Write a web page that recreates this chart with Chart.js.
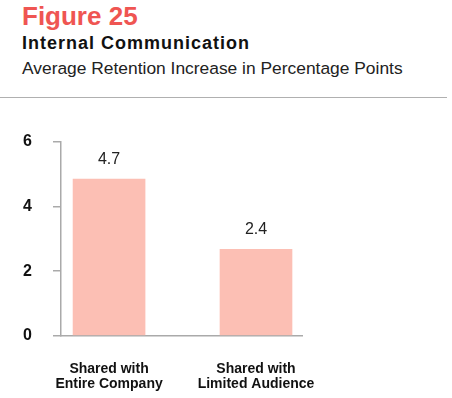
<!DOCTYPE html>
<html>
<head>
<meta charset="utf-8">
<script src="https://cdn.jsdelivr.net/npm/chart.js@4.4.1/dist/chart.umd.min.js"></script>
<style>
  html, body { margin: 0; padding: 0; background: #fff; }
  body { width: 452px; height: 398px; position: relative; overflow: hidden;
         font-family: "Liberation Sans", Arial, Helvetica, sans-serif; }
  #fig { position: absolute; left: 22px; top: 1px; font-size: 26px; font-weight: bold; color: #ef5552; }
  #title { position: absolute; left: 22px; top: 33px; font-size: 18px; font-weight: bold; color: #111; letter-spacing: 1px; }
  #sub { position: absolute; left: 22px; top: 58px; font-size: 17.4px; color: #222; }
  #rule { position: absolute; left: 0; top: 97px; width: 447px; height: 0; border-top: 1.5px solid #b0b0b0; }
  #wrap { position: absolute; left: 0; top: 100px; width: 452px; height: 318px; }
</style>
</head>
<body>
<div id="fig">Figure 25</div>
<div id="title">Internal Communication</div>
<div id="sub">Average Retention Increase in Percentage Points</div>
<div id="rule"></div>
<div id="wrap"><canvas id="chart"></canvas></div>
<script>
const categories  = [["Shared with", "Entire Company"], ["Shared with", "Limited Audience"]];
const values      = [4.85, 2.68];
const valueLabels = ["4.7", "2.4"];
const yTicks      = [0, 2, 4, 6];

const barColor = "#fcbfb4";
const axisColor = "#aaaaaa";

const valueLabelPlugin = {
  id: "valueLabels",
  afterDatasetsDraw(chart) {
    const ctx = chart.ctx;
    const meta = chart.getDatasetMeta(0);
    ctx.save();
    ctx.font = "16px 'Liberation Sans', Arial, sans-serif";
    ctx.fillStyle = "#222";
    ctx.textAlign = "center";
    ctx.textBaseline = "bottom";
    meta.data.forEach((bar, i) => {
      ctx.fillText(valueLabels[i], bar.x, bar.y - 12);
    });
    ctx.restore();
  }
};

new Chart(document.getElementById("chart"), {
  type: "bar",
  data: {
    datasets: [{
      data: values.map((v, i) => ({ x: i + 1, y: v })),
      backgroundColor: barColor,
      borderWidth: 0,
      barThickness: 72
    }]
  },
  options: {
    responsive: true,
    maintainAspectRatio: false,
    animation: false,
    layout: { autoPadding: false, padding: { left: 21, right: 150, top: 42, bottom: 0 } },
    plugins: { legend: { display: false }, tooltip: { enabled: false } },
    scales: {
      x: {
        type: "linear",
        offset: false,
        min: 0.673,
        max: 2.313,
        afterBuildTicks: scale => { scale.ticks = categories.map((c, i) => ({ value: i + 1 })); },
        grid: { drawOnChartArea: false, drawTicks: false },
        border: { display: true, color: axisColor, width: 1.5 },
        ticks: {
          callback: (v) => categories[v - 1] || "",
          font: { family: "'Liberation Sans', Arial, sans-serif", size: 14, weight: "bold", lineHeight: 1.08 },
          color: "#111",
          padding: 26,
          maxRotation: 0,
          autoSkip: false
        }
      },
      y: {
        min: 0,
        max: 6,
        afterBuildTicks: scale => { scale.ticks = yTicks.map(v => ({ value: v })); },
        afterFit: scale => { scale.width = 40; },
        grid: { drawOnChartArea: false, drawTicks: true, tickLength: 8, color: axisColor, lineWidth: 1.5 },
        border: { display: true, color: axisColor, width: 1.5 },
        ticks: {
          font: { family: "'Liberation Sans', Arial, sans-serif", size: 16, weight: "bold" },
          color: "#111",
          padding: 21
        }
      }
    }
  },
  plugins: [valueLabelPlugin]
});
</script>
</body>
</html>
